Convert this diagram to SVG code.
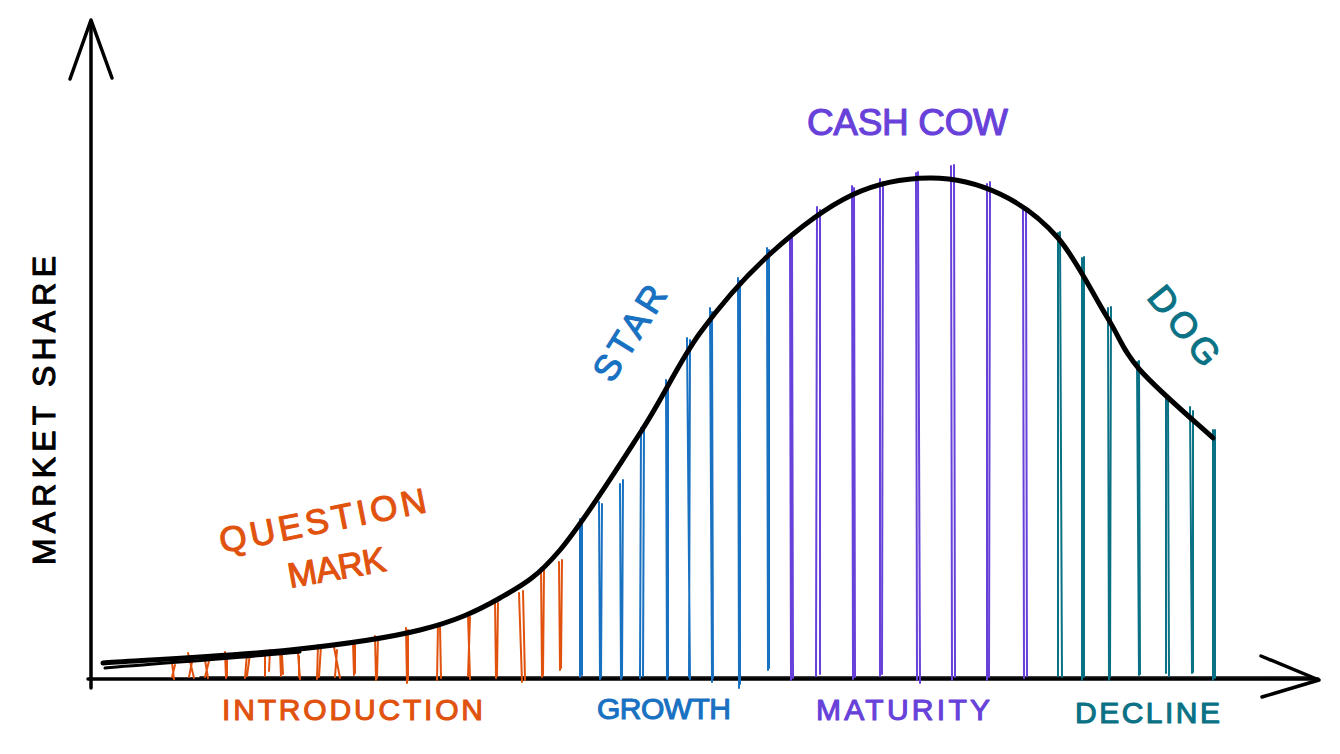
<svg xmlns="http://www.w3.org/2000/svg" width="1340" height="754" viewBox="0 0 1340 754">
<style>
.ax{fill:none;stroke:#000;stroke-width:3.5;stroke-linecap:round;stroke-linejoin:round}
.cv{fill:none;stroke:#000;stroke-width:5;stroke-linecap:round;stroke-linejoin:round}
.h{fill:none;stroke-width:2;stroke-linecap:round}
.o{stroke:#e0520e}.b{stroke:#1971c2}.p{stroke:#6741d9}.t{stroke:#0b7285}
text{font-family:"Liberation Sans",Arial,sans-serif;stroke-width:1.1;stroke-linejoin:round}
.lo{fill:#e0520e;stroke:#e0520e}.lb{fill:#1971c2;stroke:#1971c2}.lp{fill:#6741d9;stroke:#6741d9}.lt{fill:#0b7285;stroke:#0b7285}.lk{fill:#000;stroke:#000}
</style>
<rect width="1340" height="754" fill="#fff"/>
<g id="axes">
<path class="ax" d="M91,688 L91,22"/>
<path class="ax" d="M70,79 L91,20 L112,78"/>
<path class="ax" d="M88,679 L1318,679"/>
<path class="ax" style="stroke-width:1.5" d="M200,677 L1310,677"/>
<path class="ax" d="M1261,656 L1319,680 L1262,697"/>
</g>
<g id="hatch-intro" class="h o">
<path d="M172,663 L174,679 M175,665 L172,677"/>
<path d="M188,653 L194,678 M193,657 L189,677"/>
<path d="M205,660 L208,678 M209,661 L205,677"/>
<path d="M225,652 L226,678 M227,654 L227,676"/>
<path d="M247,653 L245,678 M250,654 L247,676"/>
<path d="M265,652 L265,676 M270,650 L269,671"/>
<path d="M280,650 L281,676 M282,655 L283,674"/>
<path d="M298,653 L300,679 M299,656 L299,677"/>
<path d="M318,645 L317,679 M321,646 L319,677"/>
<path d="M334,647 L340,678 M337,650 L335,677"/>
<path d="M353,642 L354,675 M355,643 L355,673"/>
<path d="M375,636 L376,680 M378,637 L377,678"/>
<path d="M406,628 L407,683 M408,630 L408,680"/>
<path d="M438,624 L437,680 M440,626 L441,678"/>
<path d="M468,615 L470,679 M470,617 L468,676"/>
<path d="M495,600 L496,678 M498,603 L497,676"/>
<path d="M519,593 L522,682 M523,591 L525,680"/>
<path d="M541,568 L542,677 M544,570 L543,675"/>
<path d="M559,562 L560,670 M562,560 L561,668"/>
</g>
<g id="hatch-growth" class="h b">
<path d="M580,519 L580,677 M582,521 L582,675"/>
<path d="M599,502 L600,679 M602,504 L601,677"/>
<path d="M620,484 L621,679 M623,480 L622,677"/>
<path d="M641,428 L640,678 M644,425 L643,676"/>
<path d="M666,380 L667,679 M668,383 L668,677"/>
<path d="M687,338 L690,679 M690,340 L689,677"/>
<path d="M710,308 L712,682 M712,312 L713,678"/>
<path d="M738,278 L739,688 M740,281 L740,684"/>
<path d="M767,248 L768,670 M769,250 L769,668"/>
</g>
<g id="hatch-maturity" class="h p">
<path d="M790,236 L791,680 M792,238 L793,678"/>
<path d="M817,207 L816,676 M820,210 L820,674"/>
<path d="M852,186 L853,679 M854,188 L855,677"/>
<path d="M880,179 L880,676 M883,182 L882,674"/>
<path d="M916,173 L917,680 M918,172 L920,683"/>
<path d="M951,166 L952,680 M954,165 L955,677"/>
<path d="M987,184 L987,680 M990,182 L989,677"/>
<path d="M1023,208 L1024,678 M1026,209 L1027,676"/>
</g>
<g id="hatch-decline" class="h t">
<path d="M1058,233 L1058,676 M1060,232 L1062,677"/>
<path d="M1082,258 L1082,680 M1084,257 L1084,677"/>
<path d="M1108,308 L1109,680 M1111,307 L1110,677"/>
<path d="M1137,362 L1139,675 M1139,361 L1140,674"/>
<path d="M1166,398 L1166,673 M1168,400 L1169,676"/>
<path d="M1190,407 L1192,673 M1193,411 L1193,672"/>
<path d="M1213,430 L1213,680 M1215,430 L1215,678"/>
</g>
<g id="curve">
<path class="cv" d="M103,663 C134.2,660.8 237.2,655.5 290,650 C342.8,644.5 385,638.7 420,630 C455,621.3 476.7,611.3 500,598 C523.3,584.7 536.3,578 560,550 C583.7,522 618.7,466.2 642,430 C665.3,393.8 678.7,362.3 700,333 C721.3,303.7 744.7,277 770,254 C795.3,231 825.3,207.7 852,195 C878.7,182.3 905.3,178.2 930,178 C954.7,177.8 978.7,184 1000,194 C1021.3,204 1040.2,217.5 1058,238 C1075.8,258.5 1093.3,295 1107,317 C1120.7,339 1122.3,349.8 1140,370 C1157.7,390.2 1200.8,426.7 1213,438"/>
<path class="cv" style="stroke-width:3" d="M105,668 C150,664 250,657 300,652"/>
</g>
<g id="labels">
<text class="lp" x="807" y="135" font-size="37" textLength="201" lengthAdjust="spacing">CASH COW</text>
<text class="lo" x="222" y="720" font-size="30" textLength="261" lengthAdjust="spacing">INTRODUCTION</text>
<text class="lb" x="597" y="719" font-size="30" textLength="134" lengthAdjust="spacing">GROWTH</text>
<text class="lp" x="816" y="720" font-size="30" textLength="174" lengthAdjust="spacing">MATURITY</text>
<text class="lt" x="1075" y="723" font-size="30" textLength="145" lengthAdjust="spacing">DECLINE</text>
<text class="lk" transform="translate(55,565) rotate(-90)" font-size="32" textLength="309" lengthAdjust="spacing">MARKET SHARE</text>
<text class="lb" transform="translate(630,333) rotate(-58)" x="0" y="12" font-size="36" text-anchor="middle" textLength="106" lengthAdjust="spacing">STAR</text>
<text class="lt" transform="translate(1184,326) rotate(51)" x="0" y="12" font-size="36" text-anchor="middle" textLength="92" lengthAdjust="spacing">DOG</text>
<text class="lo" transform="translate(222,553) rotate(-11.3)" font-size="35" textLength="210" lengthAdjust="spacing">QUESTION</text>
<text class="lo" transform="translate(290,588) rotate(-10)" font-size="35" textLength="99" lengthAdjust="spacing">MARK</text>
</g>
</svg>
